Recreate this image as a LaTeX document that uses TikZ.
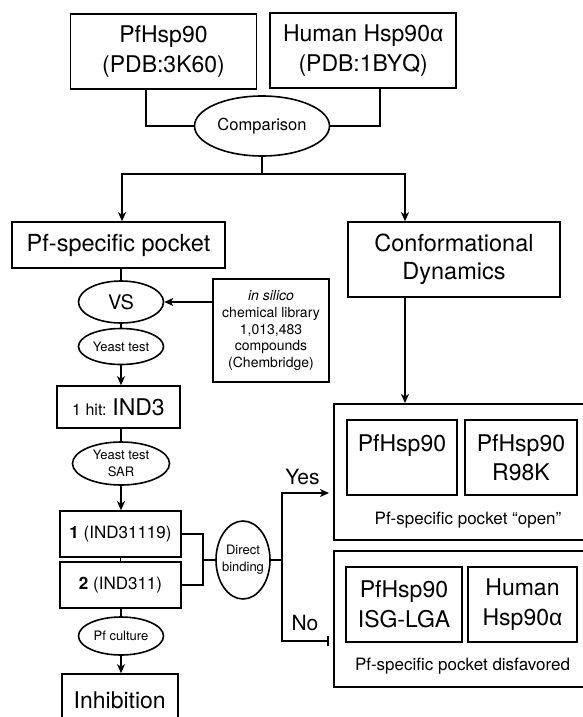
\documentclass[tikz,border=0pt]{standalone}
\usepackage{fontspec}
\setmainfont{TeX Gyre Heros}
\newfontfamily\alphafont{Liberation Sans}
\usetikzlibrary{shapes.geometric,arrows.meta,calc}
\newcommand{\fsz}[2]{\fontsize{#1}{#2}\selectfont}
\newcommand{\alp}{{\alphafont α}}
\begin{document}
\begin{tikzpicture}[x=1pt,y=-1pt,
  ln/.style={line width=1.6pt},
  box/.style={draw, line width=1.6pt, rectangle, inner sep=0pt, align=center},
  oval/.style={draw, line width=1.6pt, ellipse, inner sep=0pt, align=center},
  arr/.style={ln, -{Stealth[length=9pt,width=8pt,inset=2.5pt]}},
  barend/.style={ln, -{Bar[width=10pt]}},
  big/.style={font=\fsz{23}{29.5}},
  mid/.style={font=\fsz{17}{20}},
  small/.style={font=\fsz{13}{17}},
]
\useasboundingbox (0,0) rectangle (583,717);
\clip (0,0) rectangle (583,717);
\fill[white] (0,0) rectangle (583,717);

% helper coordinates
\coordinate (xl) at (146,0);
\coordinate (xr) at (380,0);
\coordinate (split) at (262,174);
\coordinate (xa) at (122,0);
\coordinate (xb) at (405,0);
\coordinate (bx) at (203,0);
\coordinate (yn) at (282,560);
\coordinate (ytip) at (329,493);
\coordinate (ntip) at (329,641);

% top
\node[box, big, minimum width=186pt, minimum height=75pt] (pf) at (163.5,51.5) {PfHsp90\\(PDB:3K60)};
\node[box, big, minimum width=186pt, minimum height=75pt] (hu) at (363.2,50.5) {Human Hsp90\alp\\(PDB:1BYQ)};
\node[oval, font=\fsz{16.5}{20}, minimum width=135pt, minimum height=60pt] (comp) at (262,126) {Comparison};

% second row
\node[box, font=\fsz{23.5}{28}, minimum width=213pt, minimum height=46pt] (pocket) at (118.5,245) {Pf-specific pocket};
\node[box, font=\fsz{23.5}{28}, minimum width=212pt, minimum height=75pt] (conf) at (454,259.5) {Conformational\\Dynamics};

\draw[ln] (pf.south -| xl) |- (comp.west);
\draw[ln] (hu.south -| xr) |- (comp.east);
\draw[ln] (comp.south) -- (split);
\draw[arr] (split) -| (pocket.north -| xa);
\draw[arr] (split) -| (conf.north -| xb);

% left column
\node[oval, font=\fsz{20}{24}, minimum width=85pt, minimum height=42pt] (vs) at (121,302) {VS};
\node[box, font=\fsz{14}{16.7}, minimum width=116pt, minimum height=103pt] (lib) at (271,330.5)
  {\textit{in silico}\\chemical library\\1,013,483\\compounds\\(Chembridge)};
\node[oval, small, minimum width=85pt, minimum height=36pt] (yeast) at (121,346.5) {Yeast test};
\node[box, minimum width=123pt, minimum height=42pt] (hit) at (118.5,407)
  {{\fsz{16}{19}1 hit: }{\fsz{23}{27}IND3}};
\node[oval, small, minimum width=97pt, minimum height=43pt] (sar) at (121,463.5) {Yeast test\\SAR};
\node[box, mid, minimum width=121pt, minimum height=46pt] (b1) at (120.5,534) {\textbf{1} (IND31119)};
\node[box, mid, minimum width=121pt, minimum height=46pt] (b2) at (120.5,585) {\textbf{2} (IND311)};
\node[oval, small, minimum width=85pt, minimum height=38pt] (cult) at (121,636) {Pf culture};
\node[box, big, minimum width=116pt, minimum height=52pt] (inh) at (119.7,700) {Inhibition};

\draw[ln] (pocket.south -| vs.north) -- (vs.north);
\draw[arr] (vs.east -| lib.west) -- (vs.east);
\draw[ln] (vs.south) -- (yeast.north);
\draw[arr] (yeast.south) -- (hit.north -| yeast.south);
\draw[ln] (hit.south -| sar.north) -- (sar.north);
\draw[arr] (sar.south) -- (b1.north -| sar.south);
\draw[ln] (b1.south) -- (b2.north);
\draw[ln] (b2.south -| cult.north) -- (cult.north);
\draw[arr] (cult.south) -- (inh.north -| cult.south);

% direct binding
\node[oval, small, inner xsep=-6pt, minimum width=54pt, minimum height=78pt] (db) at (243,560) {Direct\\binding};
\draw[ln] (b1.east) -| (bx |- b2.east) -- (b2.east);
\draw[ln] (db.west -| bx) -- (db.west);
\draw[arr] (db.east) -- (yn) |- (ytip);
\draw[barend] (yn) |- (ntip);
\node[font=\fsz{21}{24}] (yes) at (302.5,477) {Yes};
\node[font=\fsz{21}{24}] (no) at (305,623) {No};

% right side
\node[box, anchor=north west, minimum width=280pt, minimum height=136pt] (openb) at (333,403) {};
\node[box, big, minimum width=110pt, minimum height=75pt] (p1) at (402,457.5) {PfHsp90\\\phantom{R98K}};
\node[box, big, minimum width=112pt, minimum height=75pt] (p2) at (521,457.5) {PfHsp90\\R98K};
\node[mid] (opentxt) at (468,520) {Pf-specific pocket “open”};
\node[box, anchor=north west, minimum width=280pt, minimum height=136pt] (disb) at (333,550) {};
\node[box, big, minimum width=116pt, minimum height=75pt] (p3) at (404,604.5) {PfHsp90\\ISG-LGA};
\node[box, big, minimum width=109pt, minimum height=75pt] (p4) at (522.5,604.5) {Human\\Hsp90\alp};
\node[mid] (disftxt) at (462.5,666) {Pf-specific pocket disfavored};

\draw[arr] (conf.south -| xb) -- (openb.north -| xb);
\end{tikzpicture}
\end{document}
